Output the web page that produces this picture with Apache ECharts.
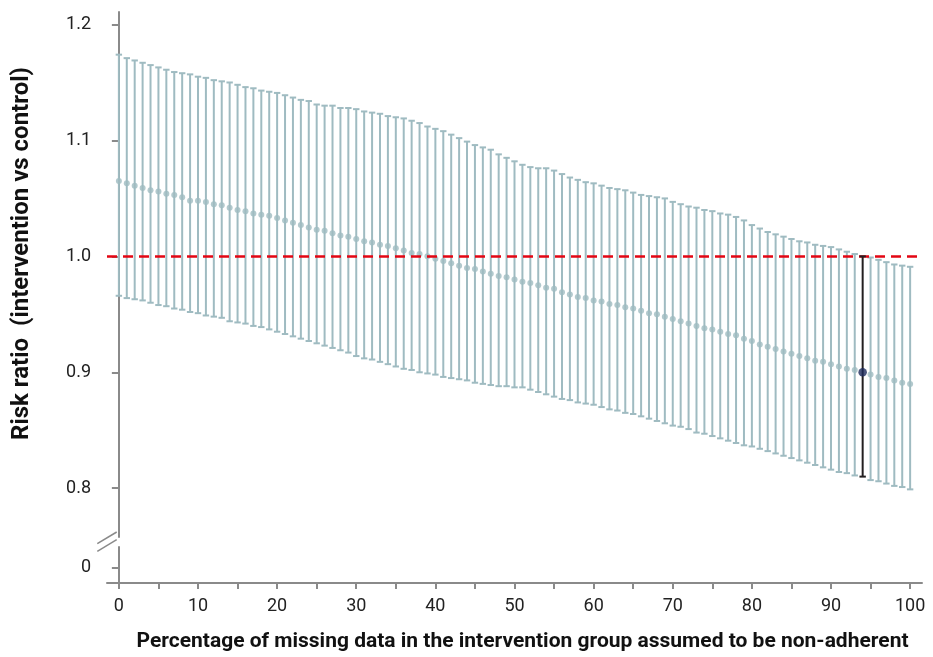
<!DOCTYPE html>
<html>
<head>
<meta charset="utf-8">
<script src="https://cdn.jsdelivr.net/npm/echarts@6/dist/echarts.min.js"></script>
<style>
  html, body { margin: 0; padding: 0; background: #fff; }
  #chart { width: 933px; height: 657px; }
</style>
</head>
<body>
<div id="chart"></div>
<script>
// Percentage of missing data assumed non-adherent (0..100)
const xValues = Array.from({ length: 101 }, (_, i) => i);

// Point estimates of the risk ratio
const riskRatio = [
  1.065, 1.063, 1.061, 1.059, 1.057, 1.056, 1.054, 1.053, 1.051, 1.048,
  1.048, 1.047, 1.045, 1.044, 1.042, 1.040, 1.039, 1.037, 1.036, 1.035,
  1.033, 1.031, 1.029, 1.027, 1.025, 1.023, 1.022, 1.020, 1.018, 1.017,
  1.015, 1.013, 1.012, 1.010, 1.009, 1.007, 1.005, 1.003, 1.002, 1.000,
  0.998, 0.996, 0.994, 0.992, 0.990, 0.989, 0.987, 0.985, 0.983, 0.982,
  0.980, 0.978, 0.977, 0.975, 0.973, 0.972, 0.969, 0.967, 0.965, 0.964,
  0.962, 0.961, 0.959, 0.958, 0.956, 0.955, 0.953, 0.951, 0.950, 0.948,
  0.946, 0.944, 0.942, 0.940, 0.938, 0.937, 0.935, 0.933, 0.932, 0.929,
  0.927, 0.924, 0.922, 0.920, 0.918, 0.916, 0.914, 0.912, 0.910, 0.909,
  0.907, 0.905, 0.903, 0.902, 0.900, 0.898, 0.896, 0.895, 0.893, 0.891,
  0.890
];

// Upper 95% confidence limits
const upperCI = [
  1.174, 1.171, 1.169, 1.167, 1.165, 1.163, 1.161, 1.159, 1.158, 1.157,
  1.155, 1.154, 1.152, 1.151, 1.150, 1.148, 1.146, 1.145, 1.143, 1.142,
  1.141, 1.139, 1.137, 1.135, 1.134, 1.131, 1.130, 1.130, 1.128, 1.128,
  1.127, 1.125, 1.124, 1.123, 1.121, 1.120, 1.119, 1.117, 1.115, 1.112,
  1.110, 1.108, 1.105, 1.102, 1.099, 1.096, 1.094, 1.092, 1.088, 1.085,
  1.082, 1.079, 1.077, 1.076, 1.076, 1.074, 1.071, 1.068, 1.066, 1.064,
  1.063, 1.061, 1.059, 1.058, 1.057, 1.055, 1.053, 1.052, 1.051, 1.050,
  1.047, 1.045, 1.043, 1.042, 1.040, 1.039, 1.037, 1.036, 1.034, 1.031,
  1.027, 1.024, 1.021, 1.019, 1.017, 1.015, 1.013, 1.012, 1.010, 1.009,
  1.008, 1.006, 1.004, 1.002, 1.000, 0.999, 0.997, 0.995, 0.993, 0.992,
  0.991
];

// Lower 95% confidence limits
const lowerCI = [
  0.966, 0.964, 0.963, 0.962, 0.960, 0.958, 0.957, 0.955, 0.954, 0.952,
  0.951, 0.949, 0.948, 0.947, 0.944, 0.943, 0.942, 0.940, 0.939, 0.937,
  0.935, 0.933, 0.931, 0.929, 0.927, 0.925, 0.923, 0.921, 0.919, 0.917,
  0.914, 0.912, 0.911, 0.909, 0.907, 0.905, 0.903, 0.902, 0.900, 0.899,
  0.898, 0.896, 0.895, 0.894, 0.893, 0.891, 0.890, 0.889, 0.888, 0.888,
  0.887, 0.887, 0.885, 0.883, 0.881, 0.879, 0.877, 0.876, 0.874, 0.873,
  0.872, 0.870, 0.868, 0.867, 0.865, 0.864, 0.862, 0.860, 0.858, 0.856,
  0.854, 0.853, 0.851, 0.848, 0.847, 0.845, 0.843, 0.841, 0.839, 0.837,
  0.836, 0.834, 0.832, 0.830, 0.828, 0.826, 0.824, 0.822, 0.820, 0.818,
  0.816, 0.814, 0.813, 0.811, 0.810, 0.807, 0.806, 0.804, 0.802, 0.801,
  0.799
];

// Highlighted scenario
const highlightX = 94;

// Axis ticks and labels
const xTickValues = [0, 5, 10, 15, 20, 25, 30, 35, 40, 45, 50, 55, 60, 65, 70, 75, 80, 85, 90, 95, 100];
const xLabelValues = [0, 10, 20, 30, 40, 50, 60, 70, 80, 90, 100];
const yTickValues = [0, 0.8, 0.9, 1.0, 1.1, 1.2];
const yTickLabels = ['0', '0.8', '0.9', '1.0', '1.1', '1.2'];
const referenceLine = 1.0;

const xTitle = 'Percentage of missing data in the intervention group assumed to be non-adherent';
const yTitle = 'Risk ratio  (intervention vs control)';

const GREY = '#9fbbc1';
const DARK = '#231f20';
const NAVY = '#1d2a5b';
const AXIS = '#8a8a8a';
const FONT = 'Roboto, "Liberation Sans", sans-serif';

const greyBars = [], greyDots = [], hlBars = [], hlDots = [];
xValues.forEach((x, i) => {
  if (x === highlightX) {
    hlBars.push([x, lowerCI[i], upperCI[i]]);
    hlDots.push([x, riskRatio[i]]);
  } else {
    greyBars.push([x, lowerCI[i], upperCI[i]]);
    greyDots.push([x, riskRatio[i]]);
  }
});

function makeRender(color) {
  return function (params, api) {
    const x = api.value(0);
    const pLo = api.coord([x, api.value(1)]);
    const pHi = api.coord([x, api.value(2)]);
    const hw = 3.2;
    const st = { stroke: color, lineWidth: 2 };
    return {
      type: 'group',
      children: [
        { type: 'line', shape: { x1: pHi[0], y1: pHi[1], x2: pLo[0], y2: pLo[1] }, style: st },
        { type: 'line', shape: { x1: pHi[0] - hw, y1: pHi[1], x2: pHi[0] + hw, y2: pHi[1] }, style: st },
        { type: 'line', shape: { x1: pLo[0] - hw, y1: pLo[1], x2: pLo[0] + hw, y2: pLo[1] }, style: st }
      ]
    };
  };
}

const chart = echarts.init(document.getElementById('chart'), null, { renderer: 'canvas' });

const breakStart = 0.018, breakEnd = 0.758;

const option = {
  animation: false,
  backgroundColor: '#ffffff',
  grid: { left: 107, right: 11, top: 12, bottom: 73, containLabel: false },
  xAxis: {
    type: 'value',
    min: -1.5,
    max: 101.5,
    name: xTitle,
    nameLocation: 'middle',
    nameGap: 48,
    nameTextStyle: { fontFamily: FONT, fontWeight: 'bold', fontSize: 21, color: '#111', padding: [0, 0, 0, 16] },
    axisLine: { show: true, onZero: false, lineStyle: { color: AXIS, width: 2 } },
    axisTick: { show: true, length: 6, lineStyle: { color: AXIS, width: 2 }, customValues: xTickValues },
    axisLabel: {
      customValues: xLabelValues,
      margin: 14,
      fontFamily: FONT,
      fontSize: 18,
      color: '#222'
    },
    splitLine: { show: false }
  },
  yAxis: {
    type: 'value',
    min: -0.0135,
    max: 1.2108,
    breaks: [{ start: breakStart, end: breakEnd, gap: '1.68%' }],
    breakArea: { show: false },
    axisLine: { show: true, lineStyle: { color: AXIS, width: 2 } },
    axisTick: { show: true, length: 7, lineStyle: { color: AXIS, width: 2 }, customValues: yTickValues },
    axisLabel: {
      customValues: yTickValues,
      margin: 16,
      fontFamily: FONT,
      fontSize: 18,
      color: '#222',
      formatter: function (v) {
        const idx = yTickValues.findIndex(t => Math.abs(t - v) < 1e-9);
        return idx >= 0 ? yTickLabels[idx] : '';
      }
    },
    splitLine: { show: false }
  },
  series: [
    {
      type: 'custom',
      name: 'CI',
      z: 2,
      renderItem: makeRender(GREY),
      encode: { x: 0, y: [1, 2] },
      data: greyBars
    },
    {
      type: 'scatter',
      name: 'RR',
      z: 3,
      symbol: 'circle',
      symbolSize: 6,
      itemStyle: { color: GREY },
      data: greyDots,
      markLine: {
        silent: true,
        symbol: 'none',
        label: { show: false },
        lineStyle: { color: '#e30613', width: 2.5, type: [10, 6] },
        data: [{ yAxis: referenceLine }]
      }
    },
    {
      type: 'custom',
      name: 'CI highlight',
      z: 5,
      renderItem: makeRender(DARK),
      encode: { x: 0, y: [1, 2] },
      data: hlBars
    },
    {
      type: 'scatter',
      name: 'RR highlight',
      z: 6,
      symbol: 'circle',
      symbolSize: 8.5,
      itemStyle: { color: NAVY },
      data: hlDots
    }
  ]
};

chart.setOption(option);

// Axis-break marks and rotated y title
function addDecor() {
  const xAxisPx = chart.convertToPixel({ xAxisIndex: 0 }, -1.5);
  const yTop = chart.convertToPixel({ yAxisIndex: 0 }, breakEnd);
  const yBot = chart.convertToPixel({ yAxisIndex: 0 }, breakStart);
  const yTopAxis = chart.convertToPixel({ yAxisIndex: 0 }, 1.2108);
  const yBotAxis = chart.convertToPixel({ yAxisIndex: 0 }, -0.0135);
  const mid = (yTop + yBot) / 2;
  const dx = 9.7, dy = 5.85, off = 3.85;
  chart.setOption({
    graphic: [
      {
        type: 'rect', z: 100,
        shape: { x: xAxisPx - 2, y: mid - off, width: 4, height: off * 2 },
        style: { fill: '#fff' }
      },
      {
        type: 'line', z: 101,
        shape: { x1: xAxisPx - dx, y1: mid - off + dy, x2: xAxisPx + dx, y2: mid - off - dy },
        style: { stroke: AXIS, lineWidth: 1.5 }
      },
      {
        type: 'line', z: 101,
        shape: { x1: xAxisPx - dx, y1: mid + off + dy, x2: xAxisPx + dx, y2: mid + off - dy },
        style: { stroke: AXIS, lineWidth: 1.5 }
      },
      {
        type: 'text', z: 101,
        x: 22, y: (yTopAxis + yBotAxis) / 2 - 44,
        rotation: Math.PI / 2,
        style: {
          text: yTitle,
          textAlign: 'center',
          textVerticalAlign: 'middle',
          font: 'bold 24px ' + FONT,
          fill: '#111'
        }
      }
    ]
  });
}
addDecor();
</script>
</body>
</html>
